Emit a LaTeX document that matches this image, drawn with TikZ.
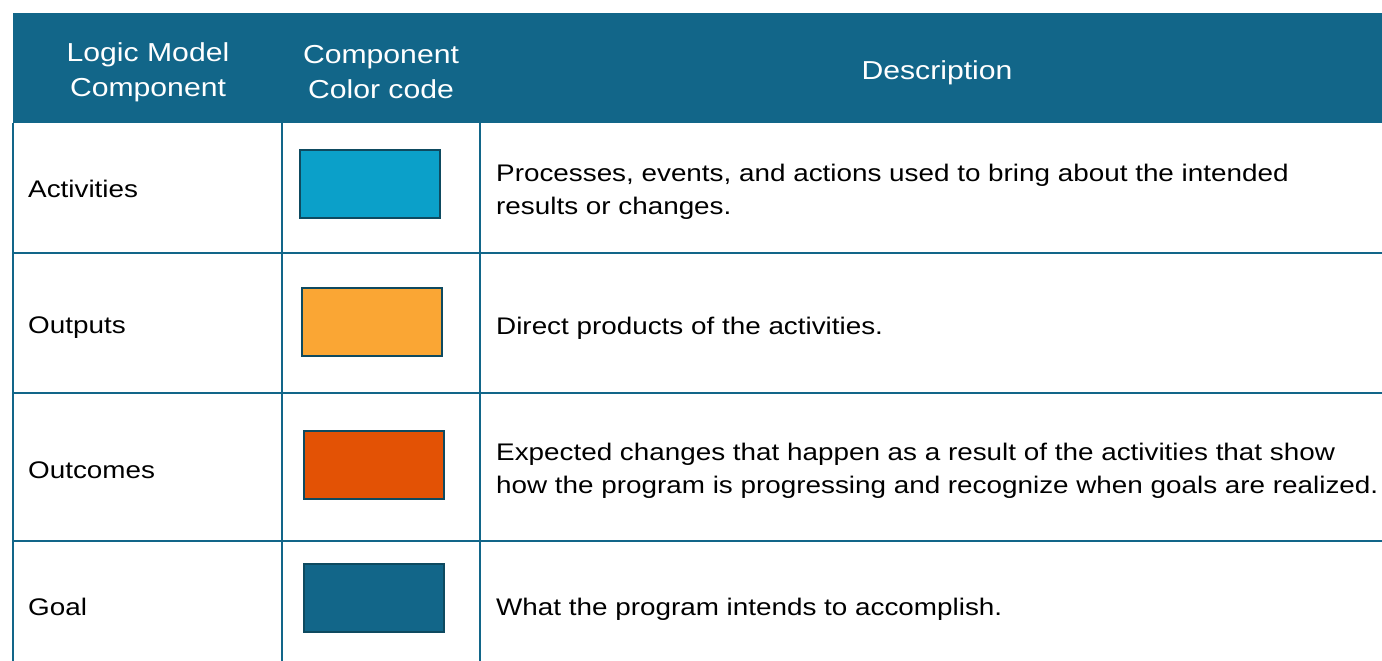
\documentclass[tikz,border=0pt]{standalone}
\usepackage{fontspec}
\setmainfont[FakeStretch=1.16]{Liberation Sans}
\definecolor{hdr}{RGB}{18,102,137}
\definecolor{cact}{RGB}{11,160,201}
\definecolor{cout}{RGB}{250,166,52}
\definecolor{cocm}{RGB}{227,82,5}
\definecolor{cgoal}{RGB}{18,102,137}
\definecolor{bdr}{RGB}{14,74,96}
\begin{document}
\begin{tikzpicture}[x=1pt,y=-1pt,
  grid/.style={draw=hdr,line width=2pt},
  htext/.style={text=white,font=\fontsize{26}{35}\selectfont,align=center},
  ctext/.style={anchor=west,font=\fontsize{24}{33}\selectfont,inner sep=0pt},
  dtext/.style={anchor=west,font=\fontsize{24}{33}\selectfont,align=left,inner sep=0pt},
  swatch/.style={draw=bdr,line width=2pt,minimum width=140pt,minimum height=68pt,inner sep=0pt}]
\useasboundingbox (0,0) rectangle (1382,661);
\fill[hdr] (13,13) rectangle (1382,123);
\draw[grid] (13,123) -- (13,661);
\draw[grid] (282,123) -- (282,661);
\draw[grid] (480,123) -- (480,661);
\draw[grid] (13,253) -- (1382,253);
\draw[grid] (13,393) -- (1382,393);
\draw[grid] (13,541) -- (1382,541);
\node[htext] (h1) at (148,72) {Logic Model\\Component};
\node[htext] (h2) at (381,72) {Component\\Color code};
\node[htext] (h3) at (937,73) {Description};
\node[ctext] (c1) at (28,189) {Activities};
\node[ctext] (c2) at (28,328) {Outputs};
\node[ctext] (c3) at (28,470) {Outcomes};
\node[ctext] (c4) at (28,607) {Goal};
\node[swatch,fill=cact] (s1) at (370,184) {};
\node[swatch,fill=cout] (s2) at (372,322) {};
\node[swatch,fill=cocm] (s3) at (374,465) {};
\node[swatch,fill=cgoal] (s4) at (374,598) {};
\node[dtext] (d1) at (496,192) {Processes, events, and actions used to bring about the intended\\results or changes.};
\node[dtext] (d2) at (496,328) {Direct products of the activities.};
\node[dtext] (d3) at (496,471) {Expected changes that happen as a result of the activities that show\\how the program is progressing and recognize when goals are realized.};
\node[dtext] (d4) at (496,609) {What the program intends to accomplish.};
\end{tikzpicture}
\end{document}
